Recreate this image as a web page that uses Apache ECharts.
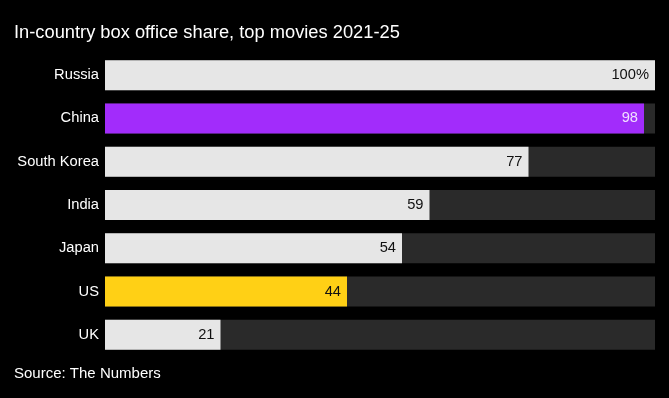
<!DOCTYPE html>
<html><head><meta charset="utf-8">
<script src="https://cdn.jsdelivr.net/npm/echarts@6/dist/echarts.min.js"></script>
<style>html,body{margin:0;padding:0;background:#000;}#c{width:669px;height:398px;}</style>
</head><body><div id="c"></div>
<script>
const categories = ["Russia","China","South Korea","India","Japan","US","UK"];
const shares = [100, 98, 77, 59, 54, 44, 21];
const barColors = ["#e6e6e6","#a22cfb","#e6e6e6","#e6e6e6","#e6e6e6","#ffd015","#e6e6e6"];
const labelColors = ["#111","#f0e0ff","#111","#111","#111","#111","#111"];
const titleText = "In-country box office share, top movies 2021-25";
const sourceText = "Source: The Numbers";

const font = "Liberation Sans, Arial, sans-serif";
const chart = echarts.init(document.getElementById('c'));
chart.setOption({
  backgroundColor: '#000',
  animation: false,
  title: [
    {text: titleText, left: 14, top: 24, padding: 0, textStyle: {color: '#fff', fontSize: 18.3, fontWeight: 'normal', fontFamily: font}},
    {text: sourceText, left: 14, top: 366, padding: 0, textStyle: {color: '#fff', fontSize: 15, fontWeight: 'normal', fontFamily: font}}
  ],
  grid: {left: 105, right: 14, top: 53.5, height: 303},
  xAxis: {type: 'value', min: 0, max: 100, show: false},
  yAxis: {type: 'category', data: categories, inverse: true,
    axisLine: {show: false}, axisTick: {show: false},
    axisLabel: {color: '#fff', fontSize: 14.7, fontFamily: font, margin: 6}},
  series: [{
    type: 'bar', barWidth: 30,
    showBackground: true, backgroundStyle: {color: '#2a2a2a'},
    data: shares.map((v, i) => ({
      value: v,
      itemStyle: {color: barColors[i]},
      label: {color: labelColors[i]}
    })),
    label: {show: true, position: 'insideRight', distance: 6, fontSize: 14.7, fontFamily: font,
      formatter: p => p.dataIndex === 0 ? p.value + '%' : String(p.value)}
  }]
});
</script></body></html>
